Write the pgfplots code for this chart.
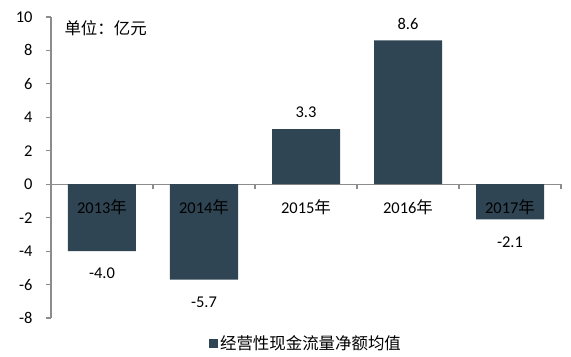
\documentclass[border=0pt]{standalone}
\usepackage{fontspec}
\setmainfont{Carlito}
\newfontfamily\cjk{Noto Sans CJK SC}
\usepackage{pgfplots}
\pgfplotsset{compat=1.18}
\usetikzlibrary{calc}
\definecolor{barcol}{RGB}{47,69,84}
\definecolor{axcol}{RGB}{140,140,140}
\begin{document}
\begin{tikzpicture}[font=\fontsize{16.5}{19}\selectfont]
\begin{axis}[
  scale only axis, width=510bp, height=301bp,
  xmin=-0.5, xmax=4.5, ymin=-8, ymax=10,
  axis y line=left, axis x line=middle,
  hide obscured x ticks=false, hide obscured y ticks=false,
  axis line style={axcol, line width=1.2bp, -},
  ytick={-8,-6,...,10},
  xtick={-0.5,0.5,...,4.5}, xticklabels={},
  tick style={axcol, line width=1.2bp},
  major tick length=5bp,
  tick align=outside,
  yticklabel style={/pgf/number format/assume math mode=true, font=\fontsize{16.5}{19}\selectfont, text=black, xshift=-10bp},
  ybar, bar width=68bp, bar shift=0pt,
  nodes near coords={\pgfmathprintnumber[fixed, fixed zerofill, precision=1, assume math mode=true]{\pgfplotspointmeta}},
  nodes near coords align=vertical,
  every node near coord/.append style={font=\fontsize{16.5}{19}\selectfont, text=black},
  legend style={at={(0.5,-0.045)}, anchor=north, draw=none, font=\fontsize{16.5}{19}\selectfont},
  legend image code/.code={\fill[barcol] (0bp,-4.5bp) rectangle (9bp,4.5bp);},
  clip=false,
]
\addplot[fill=barcol, draw=none, every node near coord/.append style={inner ysep=11bp}] coordinates {(2,3.3) (3,8.6)};
\addlegendentry{{\cjk 经营性现金流量净额均值}}
\addplot[fill=barcol, draw=none, forget plot, every node near coord/.append style={inner ysep=17bp}] coordinates {(0,-4.0) (1,-5.7) (4,-2.1)};
\node at (axis cs:0,0) [yshift=-23bp] {2013{\cjk 年}};
\node at (axis cs:1,0) [yshift=-23bp] {2014{\cjk 年}};
\node at (axis cs:2,0) [yshift=-23bp] {2015{\cjk 年}};
\node at (axis cs:3,0) [yshift=-23bp] {2016{\cjk 年}};
\node at (axis cs:4,0) [yshift=-23bp] {2017{\cjk 年}};
\node[anchor=west] at ($(rel axis cs:0,1)+(10bp,-11bp)$) {\cjk 单位：亿元};
\coordinate (sw) at (rel axis cs:0,0);
\coordinate (ne) at (rel axis cs:1,1);
\end{axis}
\pgfresetboundingbox
\path ($(sw)+(-51bp,-39bp)$) rectangle ($(ne)+(10bp,17bp)$);
\end{tikzpicture}
\end{document}
